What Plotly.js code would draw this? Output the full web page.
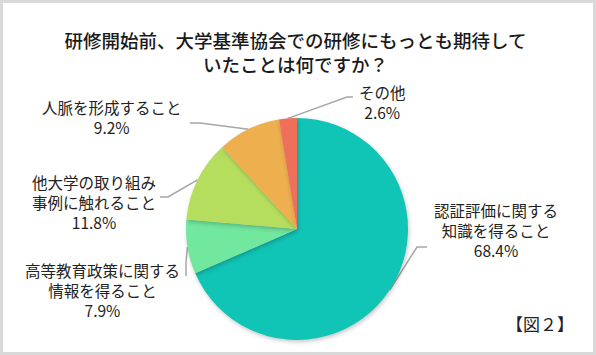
<!DOCTYPE html>
<html>
<head>
<meta charset="utf-8">
<script src="https://cdn.plot.ly/plotly-3.0.1.min.js"></script>
<style>
  html, body { margin: 0; padding: 0; background: #d9d9d9; }
  #chart { position: absolute; left: 3px; top: 3px; width: 590px; height: 349px; background: #fff; }
  .pielayer .slice path.surface { filter: drop-shadow(1px 2px 2px rgba(0,0,0,0.22)); }
</style>
</head>
<body>
<div id="chart"></div>
<script>
// ---- data ----
const categories = [
  "認証評価に関する<br>知識を得ること",
  "高等教育政策に関する<br>情報を得ること",
  "他大学の取り組み<br>事例に触れること",
  "人脈を形成すること",
  "その他"
];
const values = [68.4, 7.9, 11.8, 9.2, 2.6];
const colors = ["#11C5B6", "#72E79E", "#B5DE5E", "#EEB04F", "#EE6F5A"];
const titleText = "研修開始前、大学基準協会での研修にもっとも期待して<br>いたことは何ですか？";
const figLabel = "【図２】";

// ---- layout constants (window pixels) ----
const W = 590, H = 349, OFF = 3;
const CX = 297, CY = 229, R = 111;
// label block centers
const labelPos = [[496, 230], [102, 290], [94, 202], [112, 117], [383, 102]];
// leader line bends: [elbow, end]
const leaderPts = [
  [[417, 247], [427, 247]],
  [[186, 262], [186, 276]],
  [[168, 197], [160, 197]],
  [[200, 123], [190, 123]],
  [[347, 97], [353, 97]]
];

const px = X => (X - OFF) / W;
const py = Y => 1 - (Y - OFF) / H;

// pie domain from centre and radius
const domain = {
  x: [px(CX - R), px(CX + R)],
  y: [py(CY + R), py(CY - R)]
};

const total = values.reduce((a, b) => a + b, 0);
let cum = 0;
const annotations = [];
const shapes = [];
values.forEach((v, i) => {
  const mid = (cum + v / 2) / total * 2 * Math.PI; // clockwise from 12 o'clock
  cum += v;
  const ex = CX + R * Math.sin(mid);
  const ey = CY - R * Math.cos(mid);
  const [e1, e2] = leaderPts[i];
  const path = `M${px(ex)},${py(ey)} L${px(e1[0])},${py(e1[1])} L${px(e2[0])},${py(e2[1])}`;
  shapes.push({
    type: "path", xref: "paper", yref: "paper", path: path,
    line: { color: "#a6a6a6", width: 1.5 }, layer: "below"
  });
  annotations.push({
    xref: "paper", yref: "paper",
    x: px(labelPos[i][0]), y: py(labelPos[i][1]),
    xanchor: "center", yanchor: "middle", align: "center",
    showarrow: false,
    text: categories[i] + "<br>" + v.toFixed(1) + "%",
    font: { family: "Noto Sans CJK JP", size: 15.5, color: "#222" }
  });
});

annotations.push({
  xref: "paper", yref: "paper",
  x: px(540), y: py(323), xanchor: "center", yanchor: "middle",
  showarrow: false, text: figLabel,
  font: { family: "Noto Sans CJK JP", size: 17, color: "#222" }
});

const trace = {
  type: "pie",
  labels: categories,
  values: values,
  sort: false,
  direction: "clockwise",
  rotation: 0,
  textinfo: "none",
  hoverinfo: "none",
  marker: { colors: colors, line: { width: 0 } },
  domain: domain,
  showlegend: false
};

const layout = {
  width: W, height: H,
  margin: { l: 0, r: 0, t: 0, b: 0 },
  paper_bgcolor: "#ffffff",
  title: {
    text: titleText,
    font: { family: "Noto Sans CJK JP", size: 18.5, color: "#1a1a1a", weight: 500 },
    xref: "container", yref: "container",
    x: px(295.5), y: py(26), xanchor: "center", yanchor: "top"
  },
  annotations: annotations,
  shapes: shapes,
  showlegend: false
};

Plotly.newPlot("chart", [trace], layout, { displayModeBar: false, staticPlot: true }).then(gd => {
  // nudge title block so its first line sits where the reference has it
  const t = gd.querySelector(".g-gtitle text");
  if (t) {
    const bb = t.getBBox();
    const targetTop = 27 - OFF;
    const dy = targetTop - bb.y;
    const tr = t.getAttribute("transform") || "";
    t.setAttribute("transform", tr + ` translate(0,${dy})`);
  }
});
</script>
</body>
</html>
